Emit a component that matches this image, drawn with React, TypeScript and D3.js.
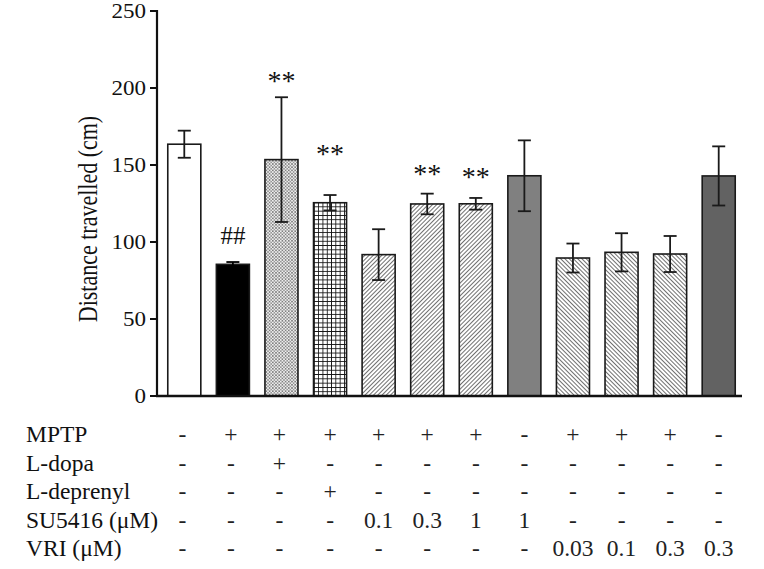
import React from "react";
import * as d3 from "d3";

const groups = ["G1","G2","G3","G4","G5","G6","G7","G8","G9","G10","G11","G12"];
const means = [163.5, 85.5, 153.5, 125.5, 91.8, 124.7, 124.8, 143.0, 89.6, 93.3, 92.2, 142.9];
const sems = [8.8, 1.5, 40.5, 5.0, 16.5, 6.7, 3.8, 23.0, 9.4, 12.4, 11.7, 19.2];
const fills = ["white","black","url(#dots)","url(#grid)","url(#hatchF)","url(#hatchF)","url(#hatchF)","#808080","url(#hatchB)","url(#hatchB)","url(#hatchB)","#626262"];
const annotations = [
  { i: 1, text: "##", v: 104 },
  { i: 2, text: "**", v: 207 },
  { i: 3, text: "**", v: 160 },
  { i: 5, text: "**", v: 147 },
  { i: 6, text: "**", v: 145 },
];
const yTicks = [0, 50, 100, 150, 200, 250];
const rowLabels = ["MPTP", "L-dopa", "L-deprenyl", "SU5416 (\u03bcM)", "VRI (\u03bcM)"];
const rowValues = [
  ["-","+","+","+","+","+","+","-","+","+","+","-"],
  ["-","-","+","-","-","-","-","-","-","-","-","-"],
  ["-","-","-","+","-","-","-","-","-","-","-","-"],
  ["-","-","-","-","0.1","0.3","1","1","-","-","-","-"],
  ["-","-","-","-","-","-","-","-","0.03","0.1","0.3","0.3"],
];

const FONT = "'Liberation Serif', 'Times New Roman', serif";

export default function App() {
  const W = 764, H = 569;
  const axisX = 157, axisY = 396, axisEnd = 742;
  const x = d3.scaleBand<string>().domain(groups).range([160, 743]).paddingInner(0.32).paddingOuter(0.16);
  const y = d3.scaleLinear().domain([0, 250]).range([axisY, 11]);
  const bw = x.bandwidth();
  const capW = 13;
  const rowBase = [442, 470.5, 499, 527.5, 556];

  return (
    <svg width={W} height={H} style={{ position: "absolute", left: 0, top: 0, background: "white" }}>
      <defs>
        <pattern id="dots" width="3.2" height="3.2" patternUnits="userSpaceOnUse">
          <rect width="3.2" height="3.2" fill="#eeeeee" />
          <rect x="0.2" y="0.2" width="1.2" height="1.2" fill="#2a2a2a" />
          <rect x="1.8" y="1.8" width="1.2" height="1.2" fill="#555" />
        </pattern>
        <pattern id="grid" width="4.3" height="4.3" patternUnits="userSpaceOnUse">
          <rect width="4.3" height="4.3" fill="white" />
          <path d="M0,0V4.3M0,0H4.3" stroke="#111" strokeWidth="1.7" />
        </pattern>
        <pattern id="hatchF" width="3" height="3" patternUnits="userSpaceOnUse" patternTransform="rotate(45)">
          <rect width="3" height="3" fill="white" />
          <line x1="0" y1="0" x2="0" y2="3" stroke="#222" strokeWidth="1.3" />
        </pattern>
        <pattern id="hatchB" width="3" height="3" patternUnits="userSpaceOnUse" patternTransform="rotate(-45)">
          <rect width="3" height="3" fill="white" />
          <line x1="0" y1="0" x2="0" y2="3" stroke="#222" strokeWidth="1.3" />
        </pattern>
      </defs>

      {/* bars */}
      {groups.map((g, i) => (
        <rect key={g} x={x(g)!} y={y(means[i])} width={bw} height={axisY - y(means[i])}
          fill={fills[i]} stroke="#1a1a1a" strokeWidth={1.6} />
      ))}

      {/* error bars */}
      {groups.map((g, i) => {
        const cx = x(g)! + bw / 2;
        const top = y(means[i] + sems[i]);
        const bot = y(means[i] - sems[i]);
        const col = i === 1 ? "black" : "#1a1a1a";
        return (
          <g key={"e" + g} stroke={col} strokeWidth={1.8} fill="none">
            <line x1={cx} x2={cx} y1={top} y2={bot} />
            <line x1={cx - capW / 2} x2={cx + capW / 2} y1={top} y2={top} />
            <line x1={cx - capW / 2} x2={cx + capW / 2} y1={bot} y2={bot} />
          </g>
        );
      })}

      {/* annotations */}
      {annotations.map((a) => (
        <text key={"a" + a.i} x={x(groups[a.i])! + bw / 2} y={y(a.v) + (a.text === "##" ? 8.5 : 13)}
          textAnchor="middle" fontFamily={FONT} fontSize={a.text === "##" ? 25 : 28} fill="#111">{a.text}</text>
      ))}

      {/* axes */}
      <line x1={axisX} x2={axisX} y1={y(250) - 1} y2={axisY + 1} stroke="#111" strokeWidth={2.2} />
      <line x1={axisX - 1} x2={axisEnd} y1={axisY} y2={axisY} stroke="#111" strokeWidth={2.4} />
      {yTicks.map((t) => (
        <g key={"t" + t}>
          <line x1={axisX - 7} x2={axisX} y1={y(t)} y2={y(t)} stroke="#111" strokeWidth={2} />
          <g transform={`translate(${axisX - 11},${y(t) + 7}) scale(1.15,1)`}>
            <text textAnchor="end" fontFamily={FONT} fontSize={20} fill="#111">{t}</text>
          </g>
        </g>
      ))}
      <g transform={`translate(97,219) scale(1.25,1) rotate(-90)`}>
        <text textAnchor="middle" fontFamily={FONT} fontSize={22} fill="#111">Distance travelled (cm)</text>
      </g>

      {/* table */}
      {rowLabels.map((lab, r) => (
        <g key={"r" + r}>
          <text x={26} y={rowBase[r]} fontFamily={FONT} fontSize={23.5} fill="#111">{lab}</text>
          {rowValues[r].map((v, i) => (
            <text key={i} x={x(groups[i])! + bw / 2 + (i < 3 ? -2 : 0)} y={rowBase[r]}
              textAnchor="middle" fontFamily={FONT} fontSize={23.5} fill="#222">{v}</text>
          ))}
        </g>
      ))}
    </svg>
  );
}
